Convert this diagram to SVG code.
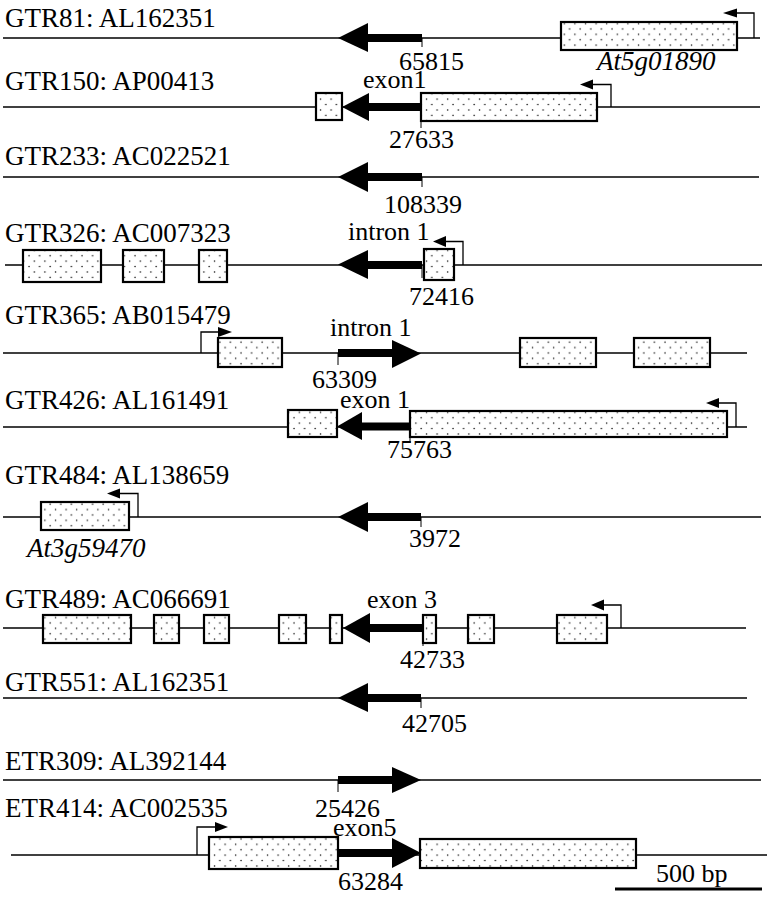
<svg xmlns="http://www.w3.org/2000/svg" width="769" height="900" viewBox="0 0 769 900">
<defs>
<pattern id="dots" patternUnits="userSpaceOnUse" width="10.6" height="10.8">
<rect width="10.6" height="10.8" fill="#fff"/>
<circle cx="2.5" cy="2" r="0.75" fill="#000"/>
<circle cx="7.8" cy="7.4" r="0.75" fill="#000"/>
</pattern>
<style>
text{font-family:"Liberation Serif","Times New Roman",serif;font-size:26px;fill:#000}
.lb{font-size:27px}
.it{font-style:italic;font-size:27px}
.ln{stroke:#000;stroke-width:1.5;fill:none}
.tk{stroke:#000;stroke-width:1;fill:none}
.bx{fill:url(#dots);stroke:#000;stroke-width:2.2}
.ar{fill:#000;stroke:none}
.ts{stroke:#000;stroke-width:1.3;fill:none}
</style>
</defs>
<rect width="769" height="900" fill="#fff"/>

<g id="connectors">
<line class="ln" x1="3" y1="38" x2="760" y2="38"/>
<line class="ln" x1="3" y1="107" x2="760" y2="107"/>
<line class="ln" x1="3" y1="177" x2="759" y2="177"/>
<line class="ln" x1="5" y1="265" x2="762" y2="265"/>
<line class="ln" x1="3" y1="353" x2="747" y2="353"/>
<line class="ln" x1="3" y1="427" x2="747" y2="427"/>
<line class="ln" x1="3" y1="517" x2="761" y2="517"/>
<line class="ln" x1="3" y1="628" x2="746" y2="628"/>
<line class="ln" x1="3" y1="698" x2="747" y2="698"/>
<line class="ln" x1="3" y1="780" x2="761" y2="780"/>
<line class="ln" x1="11" y1="855" x2="767" y2="855"/>
</g>

<g id="GTR81">
<text class="lb" x="5" y="27">GTR81: AL162351</text>
<line class="tk" x1="422" y1="38" x2="422" y2="47"/>
<rect class="ar" x="367" y="34" width="55" height="8"/>
<polygon class="ar" points="338,38 368,23 368,52"/>
<text x="399" y="70">65815</text>
<rect class="bx" x="561" y="22" width="176" height="28"/>
<polyline class="ts" points="754,38 754,13 735,13"/>
<polygon class="ar" points="723,13 737,8.5 737,17.5"/>
<text class="it" x="597" y="70">At5g01890</text>
</g>

<g id="GTR150">
<text class="lb" x="5" y="90">GTR150: AP00413</text>
<text x="363" y="88">exon1</text>
<line class="tk" x1="421" y1="107" x2="421" y2="128"/>
<rect class="bx" x="316" y="93" width="26" height="27"/>
<rect class="ar" x="367" y="103" width="55" height="8"/>
<polygon class="ar" points="342,107 369,93 369,121"/>
<rect class="bx" x="421" y="93" width="176" height="28"/>
<polyline class="ts" points="611,107 611,84.5 590,84.5"/>
<polygon class="ar" points="580,84.5 593,79.5 593,89.5"/>
<text x="389" y="148">27633</text>
</g>

<g id="GTR233">
<text class="lb" x="5" y="165">GTR233: AC022521</text>
<line class="tk" x1="422" y1="177" x2="422" y2="187"/>
<rect class="ar" x="367" y="173" width="55" height="8"/>
<polygon class="ar" points="338,177 368,162 368,192"/>
<text x="384" y="213">108339</text>
</g>

<g id="GTR326">
<text class="lb" x="5" y="242">GTR326: AC007323</text>
<rect class="bx" x="23" y="250" width="78" height="32"/>
<rect class="bx" x="123" y="250" width="41" height="32"/>
<rect class="bx" x="199" y="250" width="28" height="32"/>
<line class="tk" x1="422" y1="265" x2="422" y2="278"/>
<rect class="ar" x="367" y="261" width="55" height="8"/>
<polygon class="ar" points="338,264.5 368,250 368,279"/>
<rect class="bx" x="424" y="249" width="30" height="31"/>
<polyline class="ts" points="463,265 463,241.5 445,241.5"/>
<polygon class="ar" points="433,241.5 446,236 446,247"/>
<text x="348" y="240">intron 1</text>
<text x="409" y="305">72416</text>
</g>

<g id="GTR365">
<text class="lb" x="5" y="324">GTR365: AB015479</text>
<polyline class="ts" points="201,353 201,332 220,332"/>
<polygon class="ar" points="232,332 218,327 218,337"/>
<rect class="bx" x="218" y="338" width="64" height="29"/>
<line class="tk" x1="338" y1="353" x2="338" y2="365"/>
<rect class="ar" x="338" y="349" width="55" height="8"/>
<polygon class="ar" points="421,353.5 392,340 392,368"/>
<rect class="bx" x="520" y="338" width="76" height="29"/>
<rect class="bx" x="634" y="338" width="76" height="29"/>
<text x="330" y="336">intron 1</text>
<text x="312" y="388">63309</text>
</g>

<g id="GTR426">
<text class="lb" x="5" y="409">GTR426: AL161491</text>
<text x="340" y="408">exon 1</text>
<rect class="bx" x="288" y="410" width="49" height="27"/>
<line class="tk" x1="410" y1="427" x2="410" y2="443"/>
<rect class="ar" x="361" y="422.5" width="50" height="8"/>
<polygon class="ar" points="337,426.5 362,412 362,440"/>
<rect class="bx" x="410" y="411" width="317" height="26"/>
<polyline class="ts" points="736,427 736,403 716,403"/>
<polygon class="ar" points="706,403 719,398 719,408"/>
<text x="387" y="458">75763</text>
</g>

<g id="GTR484">
<text class="lb" x="5" y="484">GTR484: AL138659</text>
<rect class="bx" x="41" y="502" width="88" height="28"/>
<polyline class="ts" points="138,517 138,493.5 118,493.5"/>
<polygon class="ar" points="107,493.5 120,488.5 120,498.5"/>
<text class="it" x="27" y="557">At3g59470</text>
<line class="tk" x1="421" y1="517" x2="421" y2="527"/>
<rect class="ar" x="367" y="513" width="54" height="8"/>
<polygon class="ar" points="338,517 368,502 368,532"/>
<text x="409" y="547">3972</text>
</g>

<g id="GTR489">
<text class="lb" x="5" y="608">GTR489: AC066691</text>
<rect class="bx" x="43" y="615" width="88" height="28"/>
<rect class="bx" x="154" y="615" width="25" height="28"/>
<rect class="bx" x="204" y="615" width="25" height="28"/>
<rect class="bx" x="279" y="615" width="27" height="28"/>
<rect class="bx" x="330" y="615" width="12" height="28"/>
<line class="tk" x1="423" y1="628" x2="423" y2="646"/>
<rect class="ar" x="369" y="624" width="54" height="8"/>
<polygon class="ar" points="343,628 370,613 370,643"/>
<rect class="bx" x="423" y="615" width="13" height="28"/>
<rect class="bx" x="468" y="615" width="26" height="28"/>
<rect class="bx" x="557" y="615" width="50" height="28"/>
<polyline class="ts" points="621,628 621,605 602,605"/>
<polygon class="ar" points="591,605 604,599.5 604,610.5"/>
<text x="367" y="608">exon 3</text>
<text x="400" y="668">42733</text>
</g>

<g id="GTR551">
<text class="lb" x="5" y="691">GTR551: AL162351</text>
<line class="tk" x1="421" y1="698" x2="421" y2="708"/>
<rect class="ar" x="367" y="694" width="54" height="8"/>
<polygon class="ar" points="338,698 368,683 368,712"/>
<text x="402" y="732">42705</text>
</g>

<g id="ETR309">
<text class="lb" x="5" y="770">ETR309: AL392144</text>
<line class="tk" x1="338" y1="780" x2="338" y2="792"/>
<rect class="ar" x="338" y="776" width="55" height="8"/>
<polygon class="ar" points="421,780 392,767 392,793"/>
<text x="315" y="817">25426</text>
</g>

<g id="ETR414">
<text class="lb" x="5" y="817">ETR414: AC002535</text>
<polyline class="ts" points="197,855 197,827 217,827"/>
<polygon class="ar" points="228,827 215,822 215,832"/>
<rect class="bx" x="209" y="837" width="129" height="32"/>
<rect class="ar" x="338" y="849" width="55" height="8"/>
<polygon class="ar" points="421,853 392,838 392,868"/>
<rect class="bx" x="420" y="839" width="216" height="29"/>
<text x="333" y="836">exon5</text>
<text x="338" y="890">63284</text>
</g>

<g id="scale">
<text x="656" y="882">500 bp</text>
<line x1="615" y1="889" x2="762" y2="889" stroke="#000" stroke-width="3"/>
</g>
</svg>
